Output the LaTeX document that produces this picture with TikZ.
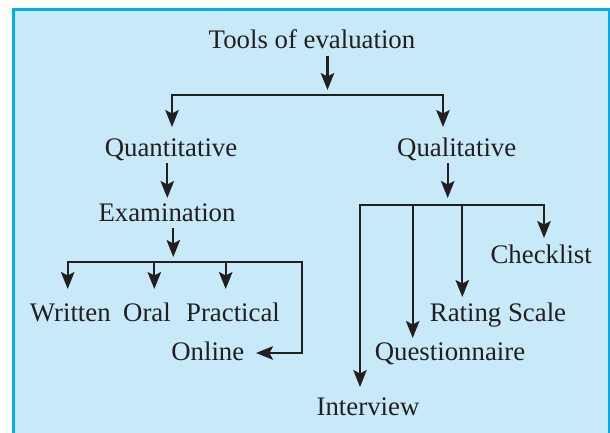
\documentclass[tikz,border=0pt]{standalone}
\usepackage{fontspec}
\setmainfont{Liberation Serif}
\usetikzlibrary{arrows.meta}
\definecolor{panel}{RGB}{199,233,248}
\definecolor{frame}{RGB}{0,174,239}
\definecolor{ink}{RGB}{35,31,32}
\tikzset{
  lbl/.style={anchor=base, inner sep=0pt, outer sep=0pt, text=ink, font=\fontsize{26.8}{30}\selectfont},
  conn/.style={draw=ink, line width=2.2pt},
  tip/.tip={Stealth[length=17pt,width=13.5pt,inset=3.5pt]},
  arr/.style={conn, -tip},
  arrboth/.style={conn, tip-tip},
}
\begin{document}
\begin{tikzpicture}[x=1pt,y=-1pt]
\useasboundingbox (0,0) rectangle (610,433);
% panel
\fill[panel] (12,8) rectangle (610,433);
\draw[frame, line width=3pt] (13,433) -- (13,9.5) -- (610,9.5);
\draw[frame, line width=1.5pt] (609.2,9.5) -- (609.2,433);

% text nodes
\node[lbl] (tools) at (312,49) {Tools of evaluation};
\node[lbl] (quant) at (171,156) {Quantitative};
\node[lbl] (qual) at (456.7,156) {Qualitative};
\node[lbl] (exam) at (167,221) {Examination};
\node[lbl] (written) at (70.3,321.7) {Written};
\node[lbl] (oral) at (147,321.7) {Oral};
\node[lbl] (practical) at (233,321.7) {Practical};
\node[lbl] (online) at (207.8,360) {Online};
\node[lbl] (checklist) at (541.2,263) {Checklist};
\node[lbl] (rating) at (498,321.7) {Rating Scale};
\node[lbl] (quest) at (450,360) {Questionnaire};
\node[lbl] (interview) at (368,415) {Interview};

% junction coordinates
\coordinate (t0) at (327.5,56);
\coordinate (t1) at (327.5,90);
\coordinate (qa) at (172,127);
\coordinate (ja) at (172,95);
\coordinate (jb) at (443,95);
\coordinate (qb) at (443,127);

\coordinate (qn0) at (167.3,163);
\coordinate (qn1) at (167.3,198);
\coordinate (ex0) at (173.3,228);
\coordinate (ex1) at (173.3,257);

\coordinate (wr) at (67.7,289);
\coordinate (b2l) at (67.7,262);
\coordinate (b2r) at (301.7,262);
\coordinate (b2d) at (301.7,353);
\coordinate (onl) at (256,353);
\coordinate (or0) at (154.3,262);
\coordinate (or1) at (154.3,289);
\coordinate (pr0) at (225.7,262);
\coordinate (pr1) at (225.7,289);

\coordinate (ql0) at (447.7,163);
\coordinate (ql1) at (447.7,198);
\coordinate (iv) at (360,387);
\coordinate (b3l) at (360,205);
\coordinate (b3r) at (544,205);
\coordinate (ck) at (544,238);
\coordinate (qs0) at (412.7,205);
\coordinate (qs1) at (412.7,338);
\coordinate (rs0) at (462.3,205);
\coordinate (rs1) at (462.3,297);

% connectors
\draw[arr] (t0) -- (t1);
\draw[arrboth] (qa) -- (ja) -- (jb) -- (qb);

\draw[arr] (qn0) -- (qn1);
\draw[arr] (ex0) -- (ex1);
\draw[arrboth] (wr) -- (b2l) -- (b2r) -- (b2d) -- (onl);
\draw[arr] (or0) -- (or1);
\draw[arr] (pr0) -- (pr1);

\draw[arr] (ql0) -- (ql1);
\draw[arrboth] (iv) -- (b3l) -- (b3r) -- (ck);
\draw[arr] (qs0) -- (qs1);
\draw[arr] (rs0) -- (rs1);
\end{tikzpicture}
\end{document}
